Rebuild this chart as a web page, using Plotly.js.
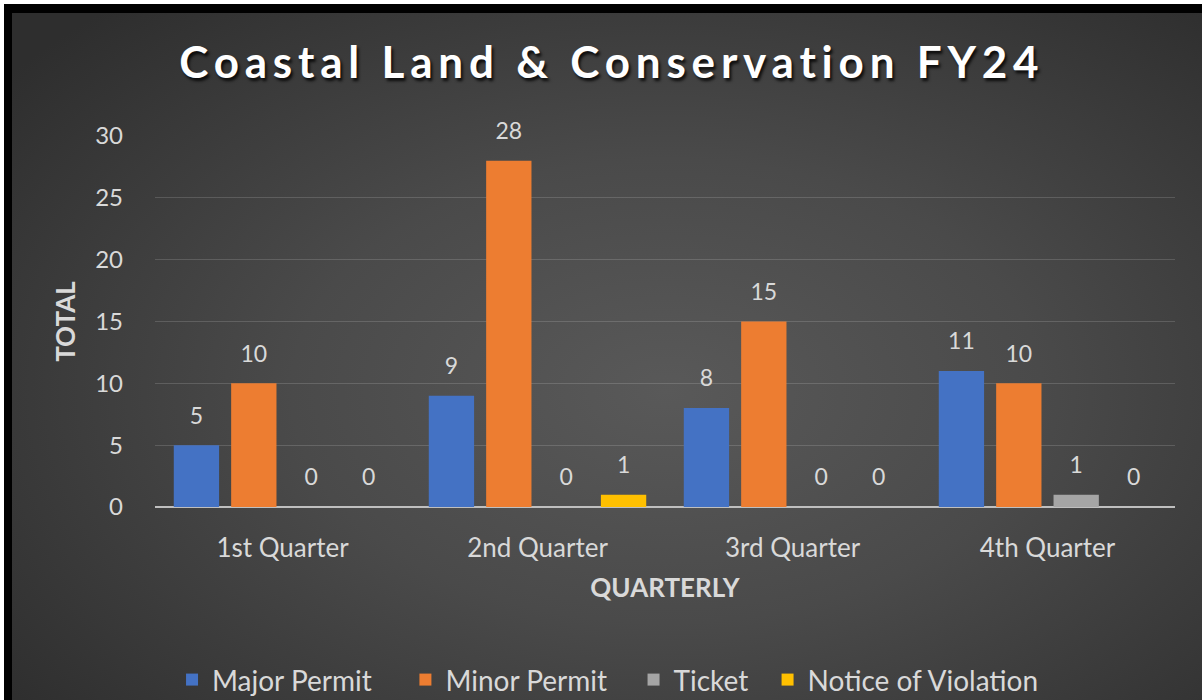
<!DOCTYPE html>
<html><head><meta charset="utf-8">
<script src="https://cdn.plot.ly/plotly-3.0.1.min.js"></script>
<style>
html,body{margin:0;padding:0;background:#fff;overflow:hidden;}
#frame{position:absolute;left:4px;top:4px;width:1198px;height:696px;background:#000;}
#bg{position:absolute;left:12px;top:13px;width:1190px;height:687px;
  background:radial-gradient(ellipse 70% 75% at 55% 55%, #595959 0%, #4a4a4a 45%, #2e2e2e 100%);}
#chart{position:absolute;left:0;top:0;width:1202px;height:700px;}
.gtitle{letter-spacing:5.8px;}
</style></head><body>
<div id="frame"></div><div id="bg"></div><div id="chart"></div>
<script>
const categories = ['1st Quarter', '2nd Quarter', '3rd Quarter', '4th Quarter'];
const majorPermit = [5, 9, 8, 11];
const minorPermit = [10, 28, 15, 10];
const ticket = [0, 0, 0, 1];
const noticeOfViolation = [0, 1, 0, 0];
const seriesNames = ['Major Permit', 'Minor Permit', 'Ticket', 'Notice of Violation'];
const seriesColors = ['#4472c4', '#ed7d31', '#a5a5a5', '#ffc000'];
const yTickVals = [0, 5, 10, 15, 20, 25, 30];

const FONT = 'Lato, "Open Sans", sans-serif';
const labelColor = '#d9d9d9';
const values = [majorPermit, minorPermit, ticket, noticeOfViolation];
const padCounts = [4, 3, 2, 0];

const data = values.map((v, i) => ({
  type: 'bar',
  x: categories,
  y: v,
  name: seriesNames[i] + '\u00a0'.repeat(padCounts[i]),
  marker: {color: seriesColors[i]},
  text: v.map(String),
  texttemplate: '<span style="font-size:23px">%{text}</span><br> ',
  textposition: 'outside',
  constraintext: 'none',
  cliponaxis: false,
  textfont: {family: FONT, size: 12, color: labelColor},
  hoverinfo: 'x+y+name'
}));

const layout = {
  width: 1202, height: 700,
  paper_bgcolor: 'rgba(0,0,0,0)',
  plot_bgcolor: 'rgba(0,0,0,0)',
  margin: {l: 155, r: 27, t: 136, b: 193, autoexpand: false},
  barmode: 'group',
  bargap: 0.1,
  bargroupgap: 0.21,
  title: {
    text: 'Coastal Land & Conservation FY24',
    font: {family: FONT, size: 44, color: '#ffffff', weight: 'bold', shadow: '2px 3px 3px rgba(0,0,0,0.8)'},
    x: 0.509, xanchor: 'center', xref: 'container',
    y: 0.911, yanchor: 'middle', yref: 'container'
  },
  xaxis: {
    type: 'category',
    tickfont: {family: FONT, size: 26, color: labelColor},
    ticks: '', showgrid: false, zeroline: false,
    showline: false,
    ticklabelstandoff: 23,
    title: {text: 'QUARTERLY', font: {family: FONT, size: 26, color: labelColor, weight: 'bold'}, standoff: 16}
  },
  yaxis: {
    range: [0, 30],
    tickvals: yTickVals,
    tickfont: {family: FONT, size: 24, color: labelColor},
    ticks: '',
    gridcolor: 'rgba(255,255,255,0.15)', gridwidth: 1,
    zeroline: true, zerolinecolor: '#bfbfbf', zerolinewidth: 2,
    showline: false,
    ticklabelstandoff: 31,
    title: {text: 'TOTAL', font: {family: FONT, size: 26, color: labelColor, weight: 'bold'}, standoff: 12}
  },
  legend: {
    orientation: 'h',
    x: 0.0167, xanchor: 'left',
    y: -0.466, yanchor: 'middle',
    font: {family: FONT, size: 28, color: labelColor},
    bgcolor: 'rgba(0,0,0,0)'
  },
  showlegend: true
};

Plotly.newPlot('chart', data, layout, {displayModeBar: false, staticPlot: true});
</script>
</body></html>
